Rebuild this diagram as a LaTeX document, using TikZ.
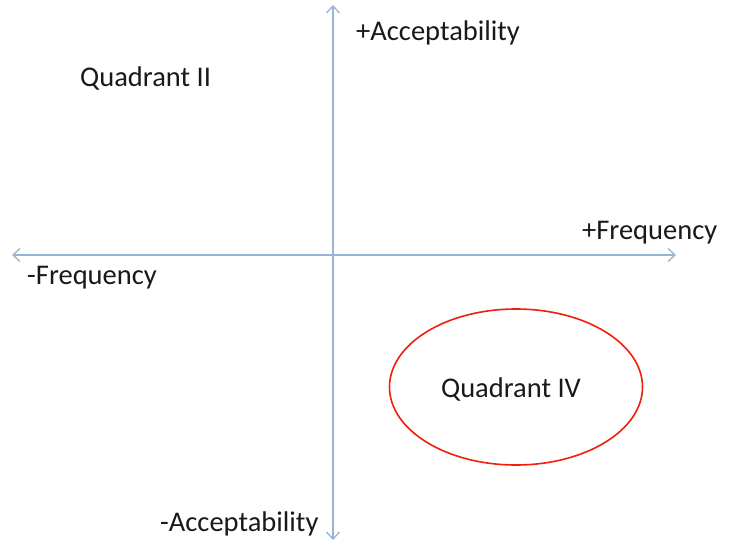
\documentclass[tikz,border=0pt]{standalone}
\usepackage{fontspec}
\setmainfont{Carlito}
\usetikzlibrary{arrows.meta,shapes.geometric}
\definecolor{axisblue}{RGB}{150,180,214}
\definecolor{ellred}{RGB}{240,30,10}
\begin{document}
\begin{tikzpicture}[x=1pt,y=-1pt,
  lbl/.style={anchor=west,inner sep=0pt,font=\fontsize{28.5}{32}\selectfont,text=black!90},
  axisline/.style={draw=axisblue,line width=1.5pt,-{Straight Barb[length=7pt,width=13pt,line width=1.3pt]}}]
\useasboundingbox (0,0) rectangle (731,544);
\coordinate (o) at (333,255);
\coordinate (top) at (333,5);
\coordinate (bot) at (333,540);
\coordinate (lft) at (12,255);
\coordinate (rgt) at (676,255);
\draw[axisline] (o) -- (top);
\draw[axisline] (o) -- (bot);
\draw[axisline] (o) -- (lft);
\draw[axisline] (o) -- (rgt);
\node[lbl] (pa) at (356,33) {+Acceptability};
\node[lbl] (q2) at (80,78) {Quadrant II};
\node[lbl] (pf) at (582,233) {+Frequency};
\node[lbl] (mf) at (27,278) {-Frequency};
\node[lbl] (ma) at (160,524) {-Acceptability};
\node[draw=ellred,line width=1.6pt,ellipse,minimum width=253pt,minimum height=156pt,inner sep=0pt] (e) at (516,387) {};
\node[lbl,anchor=center] (q4) at (511,389) {Quadrant IV};
\end{tikzpicture}
\end{document}
